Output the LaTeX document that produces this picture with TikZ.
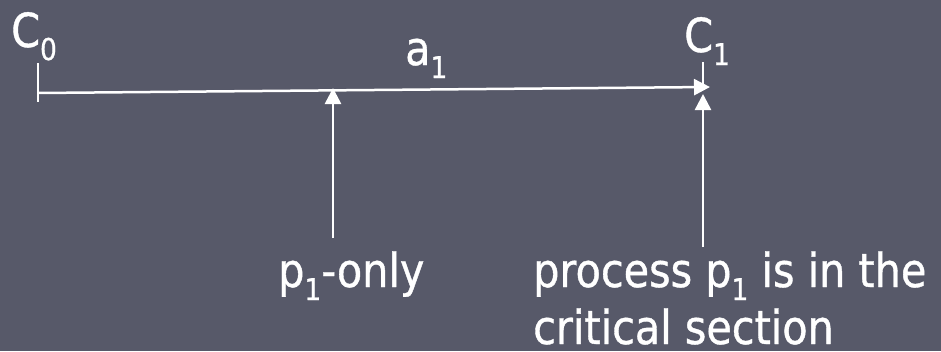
\documentclass[tikz,border=0pt]{standalone}
\usepackage{fontspec}
\setmainfont{DejaVu Sans}[FakeStretch=0.88, FakeBold=0.8]
\usetikzlibrary{arrows.meta}

\definecolor{slidebg}{RGB}{87,89,105}
\newcommand{\lowidx}[1]{\raisebox{-13pt}{\fontsize{30}{30}\selectfont #1}}

\begin{document}
\begin{tikzpicture}[x=1pt, y=-1pt,
		lbl/.style={anchor=base west, inner sep=0pt, text=white, font=\fontsize{47}{57}\selectfont},
		bar/.style={draw=white, line width=2.5pt},
		arr/.style={bar, -{Triangle[length=16pt, width=16pt]}}]
			\fill[slidebg] (0,0) rectangle (941,351);
			\useasboundingbox (0,0) rectangle (941,351);

			% time line points
			\coordinate (c0) at (38,93);
			\coordinate (c1) at (710,87);
			\coordinate (c0top) at (38,63);
			\coordinate (c0bot) at (38,102);
			\coordinate (c1top) at (703,62);
			\coordinate (c1bot) at (703,87);

			% arrow feet
			\coordinate (onlytip) at (333,88);
			\coordinate (onlyfoot) at (333,238);
			\coordinate (crittip) at (703,94);
			\coordinate (critfoot) at (703,247);

			\node[lbl] (C0) at (11,47) {C\lowidx{0}};
			\node[lbl] (C1) at (684,52) {C\lowidx{1}};
			\node[lbl] (a1) at (405,65) {a\lowidx{1}};
			\node[lbl] (only) at (278,287) {p\lowidx{1}-only};
			% base of a two-line node sits on its last line
			\node[lbl, align=left] (crit) at (533,344) {process p\lowidx{1} is in the\\critical section};

			\draw[bar] (c0top) -- (c0bot);
			\draw[bar] (c1top) -- (c1bot);
			\draw[arr] (c0) -- (c1);
			\draw[arr] (onlyfoot) -- (onlytip);
			\draw[arr] (critfoot) -- (crittip);
		\end{tikzpicture}
\end{document}
